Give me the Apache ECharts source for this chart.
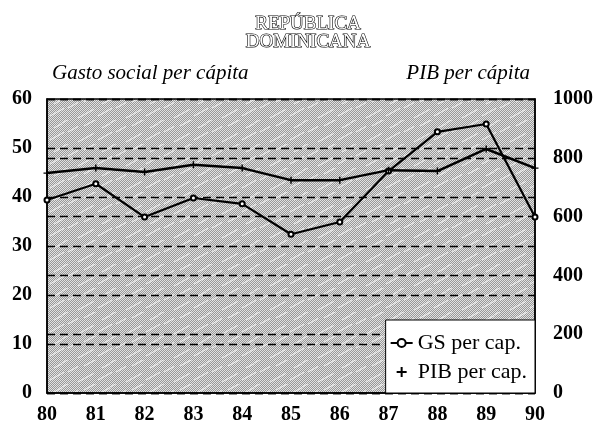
<!DOCTYPE html>
<html>
<head>
<meta charset="utf-8">
<script src="https://cdn.jsdelivr.net/npm/echarts@6/dist/echarts.min.js"></script>
<style>
  html, body { margin: 0; padding: 0; background: #ffffff; }
  #chart { width: 600px; height: 435px; }
</style>
</head>
<body>
<div id="chart"></div>
<script>
// años 1980-1990
var years = ['80', '81', '82', '83', '84', '85', '86', '87', '88', '89', '90']
// gasto social per cápita (eje izquierdo)
var gsPerCap = [39.4, 42.7, 35.9, 39.8, 38.6, 32.4, 34.9, 45.3, 53.3, 54.9, 35.9]
// PIB per cápita (eje derecho)
var pibPerCap = [748, 765, 752, 776, 765, 724, 724, 758, 755, 830, 765]

// trama gris del fondo (solo estilo)
function makeTexture () {
  var w = 48
  var h = 24
  var c = document.createElement('canvas')
  c.width = w
  c.height = h
  var ctx = c.getContext('2d')
  for (var y = 0; y < h; y++) {
    for (var x = 0; x < w; x++) {
      ctx.fillStyle = ((x + y) % 2) ? '#989898' : '#e2e2e2'
      ctx.fillRect(x, y, 1, 1)
    }
  }
  // vetas blancas en diagonal
  var streaks = [[2, 20, 14], [20, 12, 10], [30, 22, 16], [6, 8, 8], [36, 6, 12], [14, 3, 6]]
  ctx.strokeStyle = 'rgba(255,255,255,0.65)'
  ctx.lineWidth = 1.3
  streaks.forEach(function (s) {
    ctx.beginPath()
    ctx.moveTo(s[0], s[1])
    ctx.lineTo(s[0] + s[2], s[1] - s[2] * 0.55)
    ctx.stroke()
  })
  return c
}

var chart = echarts.init(document.getElementById('chart'))
var serif = 'Liberation Serif'
var dashed = { show: true, lineStyle: { color: '#000', type: [8, 5], width: 1.4 } }
var tickFont = { fontFamily: serif, fontSize: 20, fontWeight: 'bold', color: '#000' }

chart.setOption({
  animation: false,
  title: {
    text: 'REPÚBLICA\nDOMINICANA',
    left: 308,
    top: 15,
    padding: 0,
    textAlign: 'center',
    textStyle: {
      fontFamily: serif,
      fontSize: 19,
      fontWeight: 'normal',
      lineHeight: 18,
      color: '#fff',
      textBorderColor: '#000',
      textBorderWidth: 1.2
    }
  },
  grid: {
    left: 47,
    right: 65,
    top: 99,
    bottom: 42,
    show: true,
    backgroundColor: { image: makeTexture(), repeat: 'repeat' },
    borderColor: '#000',
    borderWidth: 1.5
  },
  legend: {
    orient: 'vertical',
    right: 65,
    bottom: 42,
    backgroundColor: '#fff',
    borderColor: '#000',
    borderWidth: 1,
    padding: [12, 8, 10, 4],
    itemGap: 7,
    itemWidth: 22,
    itemHeight: 10,
    textStyle: { fontFamily: serif, fontSize: 22, color: '#000' },
    data: [
      { name: 'GS per cap.' },
      { name: 'PIB per cap.', icon: 'path://M4,0h2v4h4v2h-4v4h-2v-4h-4v-2h4z', itemStyle: { color: '#000' } }
    ]
  },
  xAxis: {
    type: 'category',
    boundaryGap: false,
    data: years,
    axisLine: { lineStyle: { color: '#000', width: 1.5 } },
    axisTick: { show: false },
    axisLabel: Object.assign({ margin: 12 }, tickFont)
  },
  yAxis: [
    {
      type: 'value',
      min: 0,
      max: 60,
      interval: 10,
      name: 'Gasto social per cápita',
      nameLocation: 'end',
      nameGap: 26,
      nameTextStyle: { align: 'left', verticalAlign: 'middle', padding: [0, 0, 0, 5], fontFamily: serif, fontStyle: 'italic', fontSize: 21, color: '#000' },
      axisLine: { show: true, lineStyle: { color: '#000', width: 1.5 } },
      axisTick: { show: false },
      axisLabel: Object.assign({ margin: 15 }, tickFont),
      splitLine: dashed
    },
    {
      type: 'value',
      min: 0,
      max: 1000,
      interval: 200,
      name: 'PIB per cápita',
      nameLocation: 'end',
      nameGap: 26,
      nameTextStyle: { align: 'right', verticalAlign: 'middle', padding: [0, 5, 0, 0], fontFamily: serif, fontStyle: 'italic', fontSize: 21, color: '#000' },
      axisLine: { show: true, lineStyle: { color: '#000', width: 1.5 } },
      axisTick: { show: false },
      axisLabel: Object.assign({ margin: 18, formatter: function (v) { return String(v) } }, tickFont),
      splitLine: dashed
    }
  ],
  series: [
    {
      name: 'GS per cap.',
      type: 'line',
      yAxisIndex: 0,
      data: gsPerCap,
      symbol: 'emptyCircle',
      symbolSize: 5,
      lineStyle: { color: '#000', width: 2.2 },
      itemStyle: { color: '#000', borderColor: '#000', borderWidth: 1 }
    },
    {
      name: 'PIB per cap.',
      type: 'line',
      yAxisIndex: 1,
      data: pibPerCap,
      symbol: 'path://M4,0h2v4h4v2h-4v4h-2v-4h-4v-2h4z',
      symbolSize: 7,
      lineStyle: { color: '#000', width: 2.5 },
      itemStyle: { color: '#000' }
    }
  ]
})
</script>
</body>
</html>
